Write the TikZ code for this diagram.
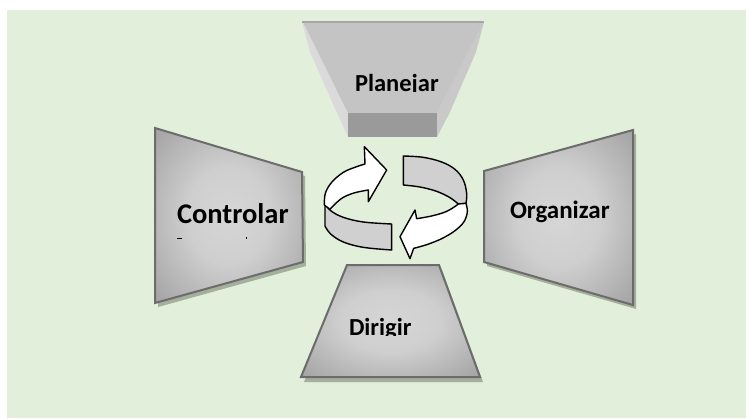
\documentclass[tikz,border=0pt]{standalone}
\usepackage{fontspec}
\setmainfont{Carlito}
\definecolor{bggreen}{HTML}{E2EFDA}
\definecolor{bordergray}{HTML}{6C6C6C}
\definecolor{shadowgreen}{HTML}{A4AF9C}
\definecolor{ribgray}{HTML}{D0D0D0}
\definecolor{planefront}{HTML}{C4C4C4}
\definecolor{planeband}{HTML}{9A9A9A}
\definecolor{planeside}{HTML}{DADADA}
\definecolor{planetop}{HTML}{A6A6A6}
\pgfdeclareradialshading{boxglow}{\pgfpoint{0bp}{0bp}}{color(0bp)=(black!16); color(14bp)=(black!19); color(35bp)=(black!36); color(50bp)=(black!50); color(72bp)=(black!64)}
\begin{document}
\begin{tikzpicture}[x=1pt,y=-1pt,
  box/.style={draw=bordergray, line width=2pt, line join=miter, shading=boxglow},
  shadowfill/.style={fill=shadowgreen},
  lbl/.style={anchor=base west, inner sep=0pt, outer sep=0pt, text=black, font=\bfseries\fontsize{#1}{#1}\selectfont},
  ribbon/.style={draw=black, line width=1.4pt, line join=round}]
\useasboundingbox (0,0) rectangle (746,418);
\fill[white] (0,0) rectangle (746,418);
\fill[bggreen] (7,10) rectangle (746,418);

% Planejar (top)
\fill[planeside] (302,22) -- (310,52) -- (337,113) -- (348,137) -- (348,113) -- (303,22) -- cycle;
\fill[planeside!92!black] (484,22) -- (476,52) -- (450,112) -- (437,137) -- (437,113) -- cycle;
\fill[planefront] (303,22) -- (484,22) -- (437,113) -- (348,113) -- cycle;
\fill[planeband] (348,113) rectangle (437,137);
\draw[planetop, line width=2pt] (302,22) -- (484,22);
\begin{scope}
  \clip (340,55) rectangle (460,91.6);
  \node[lbl=24.5] (planejar) at (355,91) {Planejar};
\end{scope}

% Controlar (left)
\fill[shadowfill, shift={(3,4)}] (155,128) -- (302,172) -- (303,262) -- (155,303) -- cycle;
\path[box] (155,128) -- (302,172) -- (303,262) -- (155,303) -- cycle;
\node[lbl=28.5] (controlar) at (177,223) {Controlar};
\fill (177,237.8) rectangle (182,239.4);
\fill (245.6,237.4) rectangle (247.2,239.4);

% Organizar (right)
\fill[shadowfill, shift={(3,4)}] (484,171) -- (633,130) -- (633,305) -- (484,262) -- cycle;
\path[box] (484,171) -- (633,130) -- (633,305) -- (484,262) -- cycle;
\node[lbl=25] (organizar) at (510,218) {Organizar};

% Dirigir (bottom)
\fill[shadowfill, shift={(3,5)}] (347,265) -- (439,265) -- (480,377) -- (301,377) -- cycle;
\path[box] (347,265) -- (439,265) -- (480,377) -- (301,377) -- cycle;
\begin{scope}
  \clip (330,300) rectangle (440,335.6);
  \node[lbl=24.5] (dirigir) at (349,335) {Dirigir};
\end{scope}

% circular arrows
\begin{scope}[shift={(310,140)}, x=0.33333pt, y=-0.33333pt]
  % right arrow, back part (grey)
  \path[ribbon, fill=ribgray] (280,48) -- plot[smooth, tension=0.6] coordinates {(280,48) (340,52) (395,66) (435,88) (460,120) (470,160) (468,190)}
    -- (445,192) -- plot[smooth, tension=0.6] coordinates {(445,192) (420,173) (380,154) (330,141) (280,135)} -- cycle;
  % right arrow, front part with head (white)
  \path[ribbon, fill=white] (468,190) -- plot[smooth, tension=0.6] coordinates {(468,190) (472,215) (462,245) (435,272) (395,296) (350,314) (311,325)}
    -- (300,356) -- (270,290) -- (315,210) -- (320,236)
    -- plot[smooth, tension=0.6] coordinates {(320,236) (360,229) (400,218) (425,206) (445,192)} -- cycle;
  % left arrow, front part (grey)
  \path[ribbon, fill=ribgray] (45,190) -- plot[smooth, tension=0.6] coordinates {(45,190) (62,212) (100,232) (160,246) (245,252)}
    -- (245,330) -- plot[smooth, tension=0.6] coordinates {(245,330) (160,322) (100,306) (62,282) (45,258)} -- cycle;
  % left arrow, back part with head (white)
  \path[ribbon, fill=white] (43,195) -- plot[smooth, tension=0.6] coordinates {(43,195) (46,160) (65,127) (100,97) (140,80) (165,72)}
    -- (163,20) -- (230,90) -- (175,185) -- (175,150)
    -- plot[smooth, tension=0.6] coordinates {(175,150) (135,158) (100,172) (75,192) (60,208)} -- cycle;
\end{scope}
\end{tikzpicture}
\end{document}
